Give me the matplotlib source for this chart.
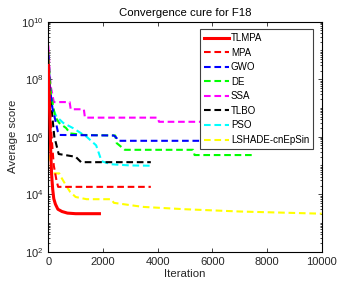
import numpy as np
import matplotlib
matplotlib.use('Agg')
import matplotlib.pyplot as plt
from matplotlib.ticker import LogLocator, NullFormatter

plt.rcParams['font.family'] = ['Liberation Sans', 'DejaVu Sans']

# Curvas de convergencia (iteracion, valor medio)
tlmpa_x = [0, 30, 60, 90, 120, 160, 200, 260, 350, 500, 700, 1000, 1870]
tlmpa_y = [3e8, 3e7, 3e6, 3e5, 5e4, 1.5e4, 7e3, 4.5e3, 3e3, 2.5e3, 2.2e3, 2.1e3, 2.1e3]

mpa_x = [0, 50, 120, 200, 300, 360, 3750]
mpa_y = [5e8, 1e7, 1e6, 1e5, 3e4, 1.8e4, 1.8e4]

gwo_x = [0, 60, 150, 250, 350, 400, 2400, 2500, 2550, 7500]
gwo_y = [8e8, 5e7, 1e7, 4e6, 1.5e6, 1.15e6, 1.1e6, 9e5, 7.2e5, 7.2e5]

de_x = [0, 100, 250, 400, 650, 800, 1300, 2450, 2500, 2800, 5300, 5350, 7450]
de_y = [6e8, 3e7, 5e6, 3e6, 2e6, 1.3e6, 1.15e6, 1.1e6, 6e5, 3.5e5, 3.5e5, 2.3e5, 2.3e5]

ssa_x = [0, 40, 80, 120, 200, 780, 820, 1300, 1340, 4000, 4050, 7500]
ssa_y = [1.5e9, 3e8, 6e7, 4e7, 1.6e7, 1.6e7, 9e6, 9e6, 4.6e6, 4.6e6, 3.3e6, 3.3e6]

tlbo_x = [0, 60, 120, 170, 220, 300, 380, 1000, 1200, 3750]
tlbo_y = [1e8, 5e7, 1e7, 3e6, 1e6, 5e5, 2.5e5, 2e5, 1.3e5, 1.3e5]

pso_x = [0, 60, 150, 300, 550, 900, 1400, 1750, 1950, 2300, 3000, 3750]
pso_y = [5e8, 2e7, 1e7, 5e6, 3e6, 2e6, 1e6, 5e5, 1.4e5, 1.1e5, 1e5, 9.8e4]

lsh_x = [0, 20, 60, 120, 400, 500, 650, 800, 1000, 1400, 2300, 2400, 3300, 3500,
         5000, 7000, 10000]
lsh_y = [1e9, 1e7, 2e5, 5.3e4, 5.3e4, 3.5e4, 2e4, 1.2e4, 8e3, 6.7e3, 6.7e3, 5e3,
         3.8e3, 3.6e3, 3e3, 2.5e3, 2.1e3]

names = ['TLMPA', 'MPA', 'GWO', 'DE', 'SSA', 'TLBO', 'PSO', 'LSHADE-cnEpSin']
curves = [(tlmpa_x, tlmpa_y), (mpa_x, mpa_y), (gwo_x, gwo_y), (de_x, de_y),
          (ssa_x, ssa_y), (tlbo_x, tlbo_y), (pso_x, pso_y), (lsh_x, lsh_y)]
colors = ['#ff0000', '#ff0000', '#0000ff', '#00ff00', '#ff00ff', '#000000',
          '#00ffff', '#ffff00']

fig = plt.figure(figsize=(3.44, 2.92), dpi=100)
ax = fig.add_axes([48.3 / 344, 1 - 251.7 / 292, 273.4 / 344, 230 / 292])

# Dibujar en orden inverso para que TLMPA quede encima
for i in reversed(range(len(names))):
    cx, cy = curves[i]
    if i == 0:
        ax.plot(cx, cy, color=colors[i], lw=2.2, label=names[i], zorder=10)
    else:
        ax.plot(cx, cy, color=colors[i], lw=1.5, ls=(0, (3.2, 1.8)), label=names[i])

ax.set_yscale('log')
ax.set_xlim(0, 10000)
ax.set_ylim(1e2, 1e10)
ax.set_xticks([0, 2000, 4000, 6000, 8000, 10000])
ax.set_yticks([1e2, 1e4, 1e6, 1e8, 1e10])
ax.yaxis.set_minor_locator(LogLocator(base=10, subs=np.arange(1, 10) * 1.0, numticks=50))
ax.yaxis.set_minor_formatter(NullFormatter())
ax.tick_params(which='both', direction='in', top=True, right=True, labelsize=8,
               width=0.6, colors='#262626', labelcolor='#262626')
ax.tick_params(which='major', length=3)
ax.tick_params(which='minor', length=1.5)
for s in ax.spines.values():
    s.set_linewidth(0.8)

ax.set_title('Convergence cure for F18', fontsize=8.2, pad=4)
ax.set_xlabel('Iteration', fontsize=8.2, labelpad=2, color='#262626')
ax.set_ylabel('Average score', fontsize=8.2, labelpad=2, color='#262626')

handles, labels = ax.get_legend_handles_labels()
order = [labels.index(n) for n in names]
leg = ax.legend([handles[k] for k in order], [labels[k] for k in order],
                loc='upper right', bbox_to_anchor=(0.968, 0.968), fontsize=7,
                frameon=True, fancybox=False, edgecolor='#404040', framealpha=1,
                handlelength=2.6, handletextpad=0.2, labelspacing=0.47,
                borderpad=0.4, borderaxespad=0)
leg.get_frame().set_linewidth(0.8)

fig.savefig('out.png', dpi=100)
